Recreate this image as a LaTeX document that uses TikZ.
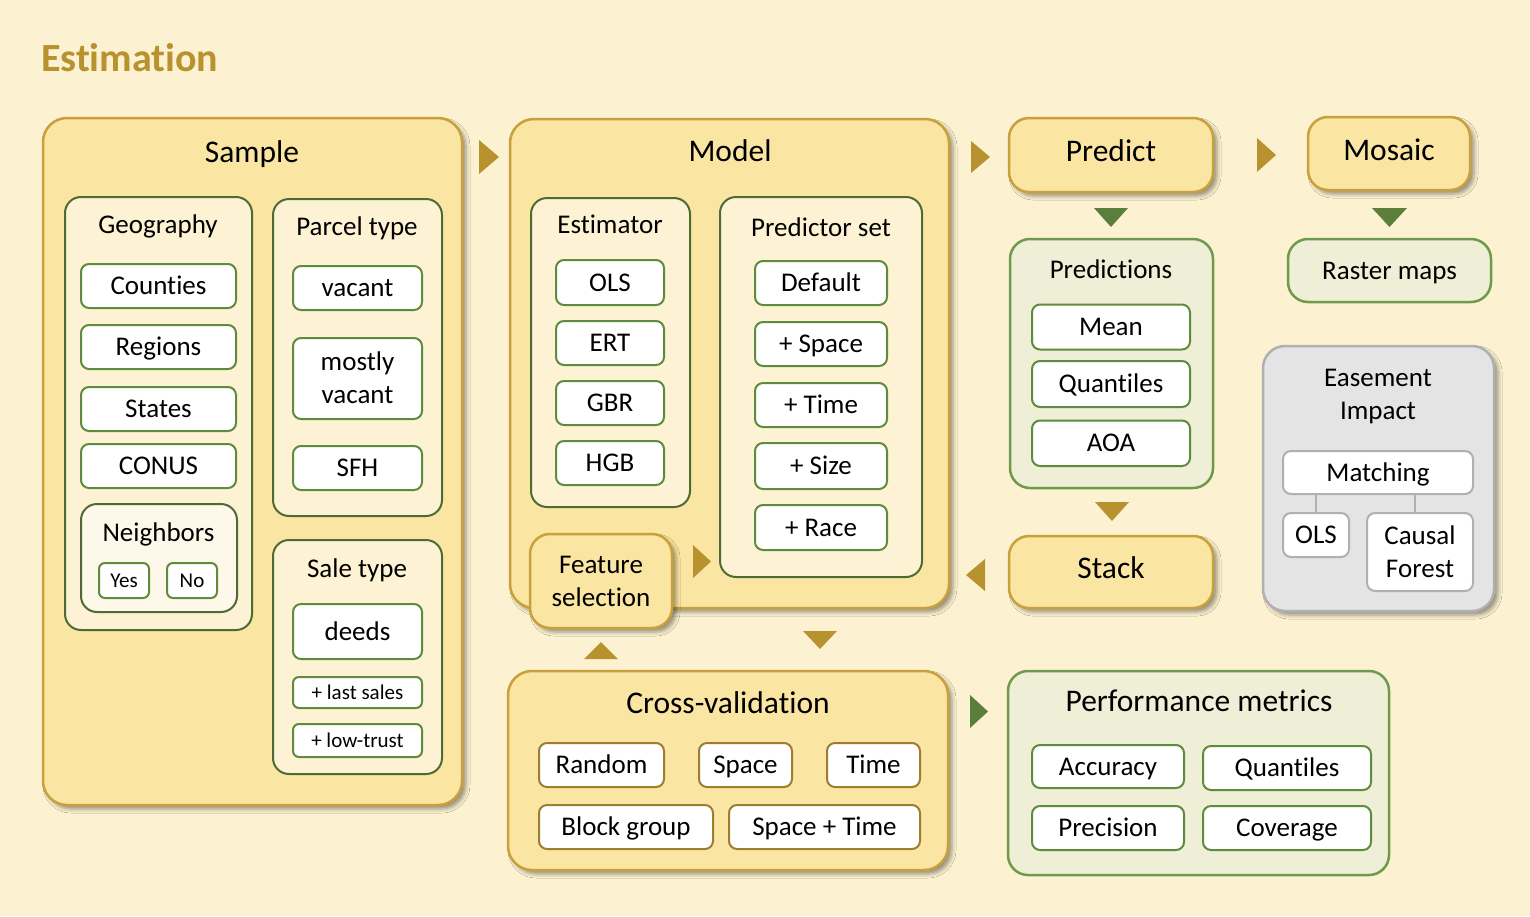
\documentclass[tikz,border=0pt]{standalone}
\usepackage{fontspec}
\setmainfont{Carlito}[Ligatures=NoCommon]
\usetikzlibrary{shadows.blur}
\definecolor{bg}{HTML}{FCF1D0}
\definecolor{goldfill}{HTML}{FAE5A3}
\definecolor{goldline}{HTML}{C8A03C}
\definecolor{gold}{HTML}{B8922E}
\definecolor{grpfill}{HTML}{FDF2D3}
\definecolor{nbfill}{HTML}{FEF8EA}
\definecolor{grpline}{HTML}{4F6B35}
\definecolor{itemline}{HTML}{5F8B3C}
\definecolor{greenfill}{HTML}{EFEED6}
\definecolor{greenline}{HTML}{6F9A4B}
\definecolor{greentri}{HTML}{5B7F3B}
\definecolor{grayfill}{HTML}{E4E4E4}
\definecolor{grayline}{HTML}{B0B0B0}
\definecolor{cvline}{HTML}{9C7E2E}
\newcommand\fbig{\fontsize{31.5}{37}\selectfont}
\newcommand\fitem{\fontsize{27}{33}\selectfont}
\newcommand\fsmall{\fontsize{21}{25}\selectfont}
\newcommand\toprule{\rule{0pt}{24pt}}
\newcommand\botrule{\rule[-6.9pt]{0pt}{6.9pt}}
\newcommand\bx[7]{\node[#1,minimum width={(#5)-(#3)},minimum height={(#6)-(#4)}] (#2) at ({((#3)+(#5))/2},{((#4)+(#6))/2}) {#7};}
\begin{document}
\begin{tikzpicture}[x=1pt,y=-1pt,
  every node/.style={inner sep=0pt,outer sep=0pt,align=center},
  bigT/.style={font=\fbig,text height=27pt,text depth=13.4pt},
  itemT/.style={font=\fitem,text height=24pt,text depth=6.9pt},
  smallT/.style={font=\fsmall,text height=18pt,text depth=4.7pt},
  multi/.style={text height=,text depth=},
  shad/.style={blur shadow={shadow xshift=4pt,shadow yshift=-4pt,shadow blur radius=4pt,shadow opacity=40}},
  stage/.style={draw=goldline,fill=goldfill,line width=2.5pt,rounded corners=24pt,shad},
  stagebtn/.style={draw=goldline,fill=goldfill,line width=2.5pt,rounded corners=20pt,shad,bigT},
  grp/.style={draw=grpline,fill=grpfill,line width=2pt,rounded corners=16pt},
  greenbox/.style={draw=greenline,fill=greenfill,line width=2.5pt,rounded corners=20pt},
  graybox/.style={draw=grayline,fill=grayfill,line width=2.5pt,rounded corners=22pt,shad},
  item/.style={draw=itemline,fill=white,line width=2pt,rounded corners=8pt,itemT},
  sitem/.style={draw=itemline,fill=white,line width=2pt,rounded corners=6pt,smallT},
  citem/.style={draw=cvline,fill=white,line width=2pt,rounded corners=8pt,itemT},
  gitem/.style={draw=grayline,fill=white,line width=2pt,rounded corners=8pt,itemT},
  ttl/.style={bigT},
  gttl/.style={itemT},
  trigold/.style={fill=gold},
  trigreen/.style={fill=greentri}
]
\fill[bg] (0,0) rectangle (1530,916);

\node[anchor=base west,font=\fontsize{40}{48}\selectfont\bfseries,text=gold] (title) at (41,71) {Estimation};

% ---------- Sample ----------
\bx{stage}{sample}{43}{118}{462}{805}{}
\node[ttl] (sampleT) at (252,156) {Sample};
\bx{grp}{geo}{65}{197}{252}{630}{}
\node[gttl] (geoT) at (158,225) {Geography};
\bx{item}{counties}{81}{264}{236}{308}{Counties}
\bx{item}{regions}{81}{325}{236}{369}{Regions}
\bx{item}{states}{81}{387}{236}{431}{States}
\bx{item}{conus}{81}{444}{236}{488}{CONUS}
\bx{grp,fill=nbfill}{nbr}{81}{504}{237}{612}{}
\node[gttl] (nbrT) at (158.5,533) {Neighbors};
\bx{sitem}{yes}{99}{563}{149}{598}{Yes}
\bx{sitem}{no}{167}{563}{217}{598}{No}
\bx{grp}{parcel}{273}{199}{442}{516}{}
\node[gttl] (parcelT) at (357,227) {Parcel type};
\bx{item}{vacant}{293}{266}{422}{310}{vacant}
\bx{item,multi}{mvacant}{293}{338}{422}{419}{\toprule mostly\\vacant\botrule}
\bx{item}{sfh}{293}{446}{422}{490}{SFH}
\bx{grp}{sale}{273}{540}{442}{774}{}
\node[gttl] (saleT) at (357,568.5) {Sale type};
\bx{item}{deeds}{293}{604}{422}{659}{deeds}
\bx{sitem}{lastsales}{293}{677}{422}{708}{+ last sales}
\bx{sitem}{lowtrust}{293}{724}{422}{757}{+ low-trust}

% ---------- Model ----------
\bx{stage}{model}{510}{119}{949}{608}{}
\node[ttl] (modelT) at (730,155) {Model};
\bx{grp}{est}{531}{198}{690}{507}{}
\node[gttl] (estT) at (610,225) {Estimator};
\bx{item}{ols}{556}{260}{664}{305}{OLS}
\bx{item}{ert}{556}{321}{664}{365}{ERT}
\bx{item}{gbr}{556}{381}{664}{425}{GBR}
\bx{item}{hgb}{556}{441}{664}{485}{HGB}
\bx{grp}{pset}{720}{197}{922}{577}{}
\node[gttl] (psetT) at (821,227.5) {Predictor set};
\bx{item}{pdef}{755}{261}{887}{305}{Default}
\bx{item}{pspace}{755}{322}{887}{366}{+ Space}
\bx{item}{ptime}{755}{383}{887}{427}{+ Time}
\bx{item}{psize}{755}{443}{887}{489}{+ Size}
\bx{item}{prace}{755}{505}{887}{550}{+ Race}
\bx{stage,rounded corners=20pt,itemT,multi}{fs}{530}{534}{672}{628}{\toprule Feature\\selection\botrule}

% ---------- Predict / Mosaic ----------
\bx{stagebtn}{predict}{1009}{118}{1213}{192}{Predict}
\bx{stagebtn}{mosaic}{1308}{117}{1470}{190}{Mosaic}
\bx{greenbox}{preds}{1010}{239}{1213}{488}{}
\node[gttl] (predsT) at (1111,270) {Predictions};
\bx{item}{mean}{1032}{304.5}{1190}{349.5}{Mean}
\bx{item}{quant}{1032}{361}{1190}{407}{Quantiles}
\bx{item}{aoa}{1032}{420.5}{1190}{466}{AOA}
\bx{stagebtn}{stack}{1009}{536}{1213}{608}{Stack}
\bx{greenbox,itemT}{raster}{1288}{239}{1491}{302}{Raster maps}

% ---------- Easement ----------
\bx{graybox}{ease}{1263}{346}{1494}{611}{}
\node[gttl,multi] (easeT) at (1378,394) {\toprule Easement\\Impact\botrule};
\bx{gitem}{match}{1283}{451}{1473}{494}{Matching}
\bx{gitem}{mols}{1283}{513}{1349}{557}{OLS}
\bx{gitem,multi}{cf}{1367}{513}{1473}{591}{\toprule Causal\\Forest\botrule}
\draw[grayline,line width=1.5pt] (mols.north) -- (mols.north |- match.south);
\draw[grayline,line width=1.5pt] ([xshift=-5pt]cf.north) -- ([xshift=-5pt]cf.north |- match.south);

% ---------- Cross-validation ----------
\bx{stage}{cv}{508}{671}{948}{870}{}
\node[ttl] (cvT) at (728,707) {Cross-validation};
\bx{citem}{rnd}{539}{743}{664}{787}{Random}
\bx{citem}{cvspace}{699}{743}{792}{787}{Space}
\bx{citem}{cvtime}{827}{743}{920}{787}{Time}
\bx{citem}{bgrp}{539}{805}{713}{849}{Block group}
\bx{citem}{cvst}{729}{805}{920}{849}{Space + Time}

% ---------- Performance metrics ----------
\bx{greenbox}{perf}{1008}{671}{1389}{875}{}
\node[ttl] (perfT) at (1199,705) {Performance metrics};
\bx{item}{acc}{1032}{745}{1184}{788}{Accuracy}
\bx{item}{pquant}{1203}{746}{1371}{790}{Quantiles}
\bx{item}{prec}{1032}{806}{1184}{850}{Precision}
\bx{item}{cov}{1203}{806}{1371}{850}{Coverage}

% ---------- flow triangles ----------
\fill[trigold] (479,140) -- (499,157) -- (479,174) -- cycle;
\fill[trigold] (971,141) -- (990,157) -- (971,173) -- cycle;
\fill[trigold] (1257,138) -- (1276,155) -- (1257,172) -- cycle;
\fill[trigreen] (1094,208) -- (1128,208) -- (1111,227) -- cycle;
\fill[trigreen] (1372,208) -- (1407,208) -- (1389.5,227) -- cycle;
\fill[trigold] (1095,502) -- (1129,502) -- (1112,521) -- cycle;
\fill[trigold] (985,559) -- (966,575) -- (985,591) -- cycle;
\fill[trigold] (693,545) -- (711,561.5) -- (693,578) -- cycle;
\fill[trigold] (803,631) -- (837,631) -- (820,649) -- cycle;
\fill[trigold] (584,659) -- (618,659) -- (601,642) -- cycle;
\fill[trigreen] (970,695) -- (988,711.5) -- (970,728) -- cycle;
\end{tikzpicture}
\end{document}
